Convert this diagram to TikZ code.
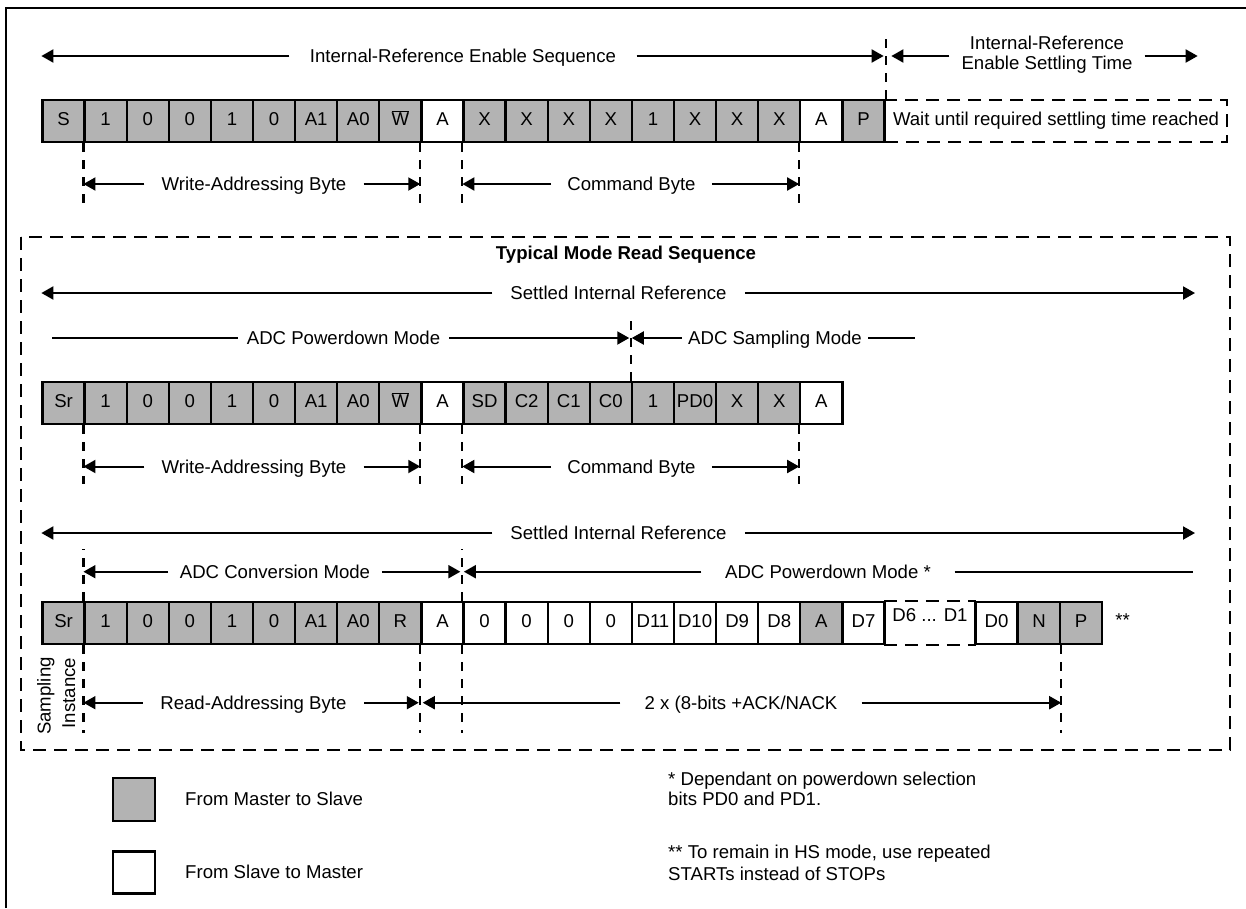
\documentclass[tikz,border=0pt]{standalone}
\usepackage{fontspec}
\setmainfont{Liberation Sans}
\usetikzlibrary{arrows.meta}
\definecolor{boxgray}{RGB}{179,179,179}
\newcommand\myfs{\fontsize{18.6}{20}\selectfont}
\begin{document}
\begin{tikzpicture}[x=1pt,y=-1pt,
  cell/.style={draw, line width=2.3pt, minimum width=42.1pt, minimum height=42pt, inner sep=0pt,
               text height=13.4pt, text depth=5pt, font=\myfs},
  cg/.style={fill=boxgray}, cw/.style={fill=white},
  lab/.style={inner ysep=0pt, text height=13.4pt, text depth=0pt, font=\myfs},
  dim/.style={line width=2pt, -{Triangle[length=12pt,width=13pt]}},
  plain/.style={line width=2pt},
  dv/.style={line width=2.2pt, dash pattern=on 9pt off 8pt},
  db/.style={line width=2.2pt, dash pattern=on 13pt off 8pt}]
\useasboundingbox (0,0) rectangle (1246,908);

% frame
\draw[line width=2.5pt] (6,908) -- (6,8) -- (1246,8);
\draw[db] (21,237) rectangle (1230,750);

\coordinate (rEnd) at (1195,0);
\coordinate (lStart) at (52,0);
\coordinate (pEnd) at (1193,0);

% ---------- row 1 ----------
\node[cell, db, minimum width=342pt] (wait) at (1056,121) {Wait until required settling time reached};
\foreach \lab/\f [count=\i from 0] in {S/cg,1/cg,0/cg,0/cg,1/cg,0/cg,A1/cg,A0/cg,{$\overline{\mbox{W}}$}/cg,A/cw,X/cg,X/cg,X/cg,X/cg,1/cg,X/cg,X/cg,X/cg,A/cw,P/cg}
  \node[cell,\f] (r1-\i) at ({63.55+42.1*\i},121) {\lab};

\foreach \c in {1,9,10,18} \draw[dv] (r1-\c.south west) -- ++(0,60);
\draw[dv] (r1-19.north east) -- ++(0,-65);

\node[lab, inner xsep=20.5pt] (ires) at (463,56) {Internal-Reference Enable Sequence};
\draw[dim] (ires.west) -- (ires.west -| r1-0.west);
\draw[dim, shorten >=2pt] (ires.east) -- (ires.east -| r1-19.east);

\node[lab] (set1) at (1047,43) {Internal-Reference};
\node[lab, inner xsep=12pt] (set2) at (1047,63) {Enable Settling Time};
\draw[dim] ([yshift=7pt]set2.west) -- ++(-58,0);
\draw[dim] ([yshift=7pt]set2.east) -- ++(53,0);

\node[lab, inner xsep=17pt] (wab1) at (254,184) {Write-Addressing Byte};
\draw[dim] (wab1.west) -- (wab1.west -| r1-1.west);
\draw[dim] (wab1.east) -- (wab1.east -| r1-9.west);
\node[lab, inner xsep=16pt] (cb1) at (631.5,184) {Command Byte};
\draw[dim] (cb1.west) -- (cb1.west -| r1-10.west);
\draw[dim] (cb1.east) -- (cb1.east -| r1-18.west);

% ---------- typical mode ----------
\node[lab, font=\myfs\bfseries] (tmr) at (626,253) {Typical Mode Read Sequence};

\node[lab, inner xsep=18pt] (sir1) at (618.5,293) {Settled Internal Reference};
\draw[dim] (sir1.west) -- (sir1.west -| r1-0.west);
\draw[dim] (sir1.east) -- (sir1.east -| rEnd);

% ---------- row 2 ----------
\foreach \lab/\f [count=\i from 0] in {Sr/cg,1/cg,0/cg,0/cg,1/cg,0/cg,A1/cg,A0/cg,{$\overline{\mbox{W}}$}/cg,A/cw,SD/cg,C2/cg,C1/cg,C0/cg,1/cg,PD0/cg,X/cg,X/cg,A/cw}
  \node[cell,\f] (r2-\i) at ({63.55+42.1*\i},403) {\lab};

\foreach \c in {1,9,10,18} \draw[dv] (r2-\c.south west) -- ++(0,59);
\draw[dv] (r2-14.north west) -- ++(0,-62);

\node[lab, inner xsep=9pt] (pd1) at (343.5,338) {ADC Powerdown Mode};
\draw[plain] (pd1.west) -- (pd1.west -| lStart);
\draw[dim, shorten >=1.5pt] (pd1.east) -- (pd1.east -| r2-14.west);
\node[lab, inner xsep=6pt] (smp) at (775,338) {ADC Sampling Mode};
\draw[dim, shorten >=1pt] (smp.west) -- (smp.west -| r2-14.west);
\draw[plain] (smp.east) -- ++(47,0);

\node[lab, inner xsep=17pt] (wab2) at (254,466.5) {Write-Addressing Byte};
\draw[dim] (wab2.west) -- (wab2.west -| r2-1.west);
\draw[dim] (wab2.east) -- (wab2.east -| r2-9.west);
\node[lab, inner xsep=16pt] (cb2) at (631.5,466.5) {Command Byte};
\draw[dim] (cb2.west) -- (cb2.west -| r2-10.west);
\draw[dim] (cb2.east) -- (cb2.east -| r2-18.west);

% ---------- row 3 ----------
\node[lab, inner xsep=18pt] (sir2) at (618.5,533) {Settled Internal Reference};
\draw[dim] (sir2.west) -- (sir2.west -| r1-0.west);
\draw[dim] (sir2.east) -- (sir2.east -| rEnd);

\foreach \lab/\f [count=\i from 0] in {Sr/cg,1/cg,0/cg,0/cg,1/cg,0/cg,A1/cg,A0/cg,R/cg,A/cw,0/cw,0/cw,0/cw,0/cw,D11/cw,D10/cw,D9/cw,D8/cw,A/cg,D7/cw}
  \node[cell,\f] (r3-\i) at ({63.55+42.1*\i},623) {\lab};
\node[cell, draw=none, minimum width=90pt, text depth=17pt] (d61) at (930,623) {D6 ... D1};
\draw[db] (d61.north west) -- (d61.north east);
\draw[db] (d61.south west) -- (d61.south east);
\node[cell,cw] (r3-d0) at (996.5,623) {D0};
\node[cell,cg] (r3-n) at (1039,623) {N};
\node[cell,cg] (r3-p) at (1081,623) {P};
\node[lab] (stars) at (1122.5,620) {**};

\draw[dv] (r3-1.north west) -- ++(0,-52);
\draw[dv] (r3-10.north west) -- ++(0,-52);
\foreach \c in {1,9,10} \draw[dv] (r3-\c.south west) -- ++(0,88);
\draw[dv] (r3-n.south east) -- ++(0,88);

\node[lab, inner xsep=11.5pt] (adcc) at (275,571.7) {ADC Conversion Mode};
\draw[dim] (adcc.west) -- (adcc.west -| r3-1.west);
\draw[dim, shorten >=2pt] (adcc.east) -- (adcc.east -| r3-10.west);
\node[lab, inner xsep=23.5pt] (pds) at (828,571.7) {ADC Powerdown Mode *};
\draw[dim, shorten >=1.5pt] (pds.west) -- (pds.west -| r3-10.west);
\draw[plain] (pds.east) -- (pds.east -| pEnd);

\node[lab, inner xsep=17.5pt] (rab) at (253.4,702.7) {Read-Addressing Byte};
\draw[dim] (rab.west) -- (rab.west -| r3-1.west);
\draw[dim, shorten >=1.5pt] (rab.east) -- (rab.east -| r3-9.west);
\node[lab, inner xsep=24pt] (two) at (741,702.7) {2 x (8-bits +ACK/NACK};
\draw[dim, shorten >=2.5pt] (two.west) -- (two.west -| r3-9.west);
\draw[dim] (two.east) -- (two.east -| r3-n.east);

\node[lab, rotate=90] (samp1) at (44,696) {Sampling};
\node[lab, rotate=90] (samp2) at (68.5,693) {Instance};

% ---------- legend ----------
\node[cell, cg, minimum width=42.5pt, minimum height=43pt] (legM) at (134,799.5) {};
\node[cell, cw, minimum width=42.5pt, minimum height=42pt] (legS) at (134,872.5) {};
\node[lab, anchor=west, inner xsep=0pt] (legMt) at (185,798.3) {From Master to Slave};
\node[lab, anchor=west, inner xsep=0pt] (legSt) at (185,871.7) {From Slave to Master};

\node[lab, anchor=west, inner xsep=0pt] (n1a) at (668,778.3) {* Dependant on powerdown selection};
\node[lab, anchor=west, inner xsep=0pt] (n1b) at (668,798.3) {bits PD0 and PD1.};
\node[lab, anchor=west, inner xsep=0pt] (n2a) at (668,851.7) {** To remain in HS mode, use repeated};
\node[lab, anchor=west, inner xsep=0pt] (n2b) at (668,873.3) {STARTs instead of STOPs};
\end{tikzpicture}
\end{document}
